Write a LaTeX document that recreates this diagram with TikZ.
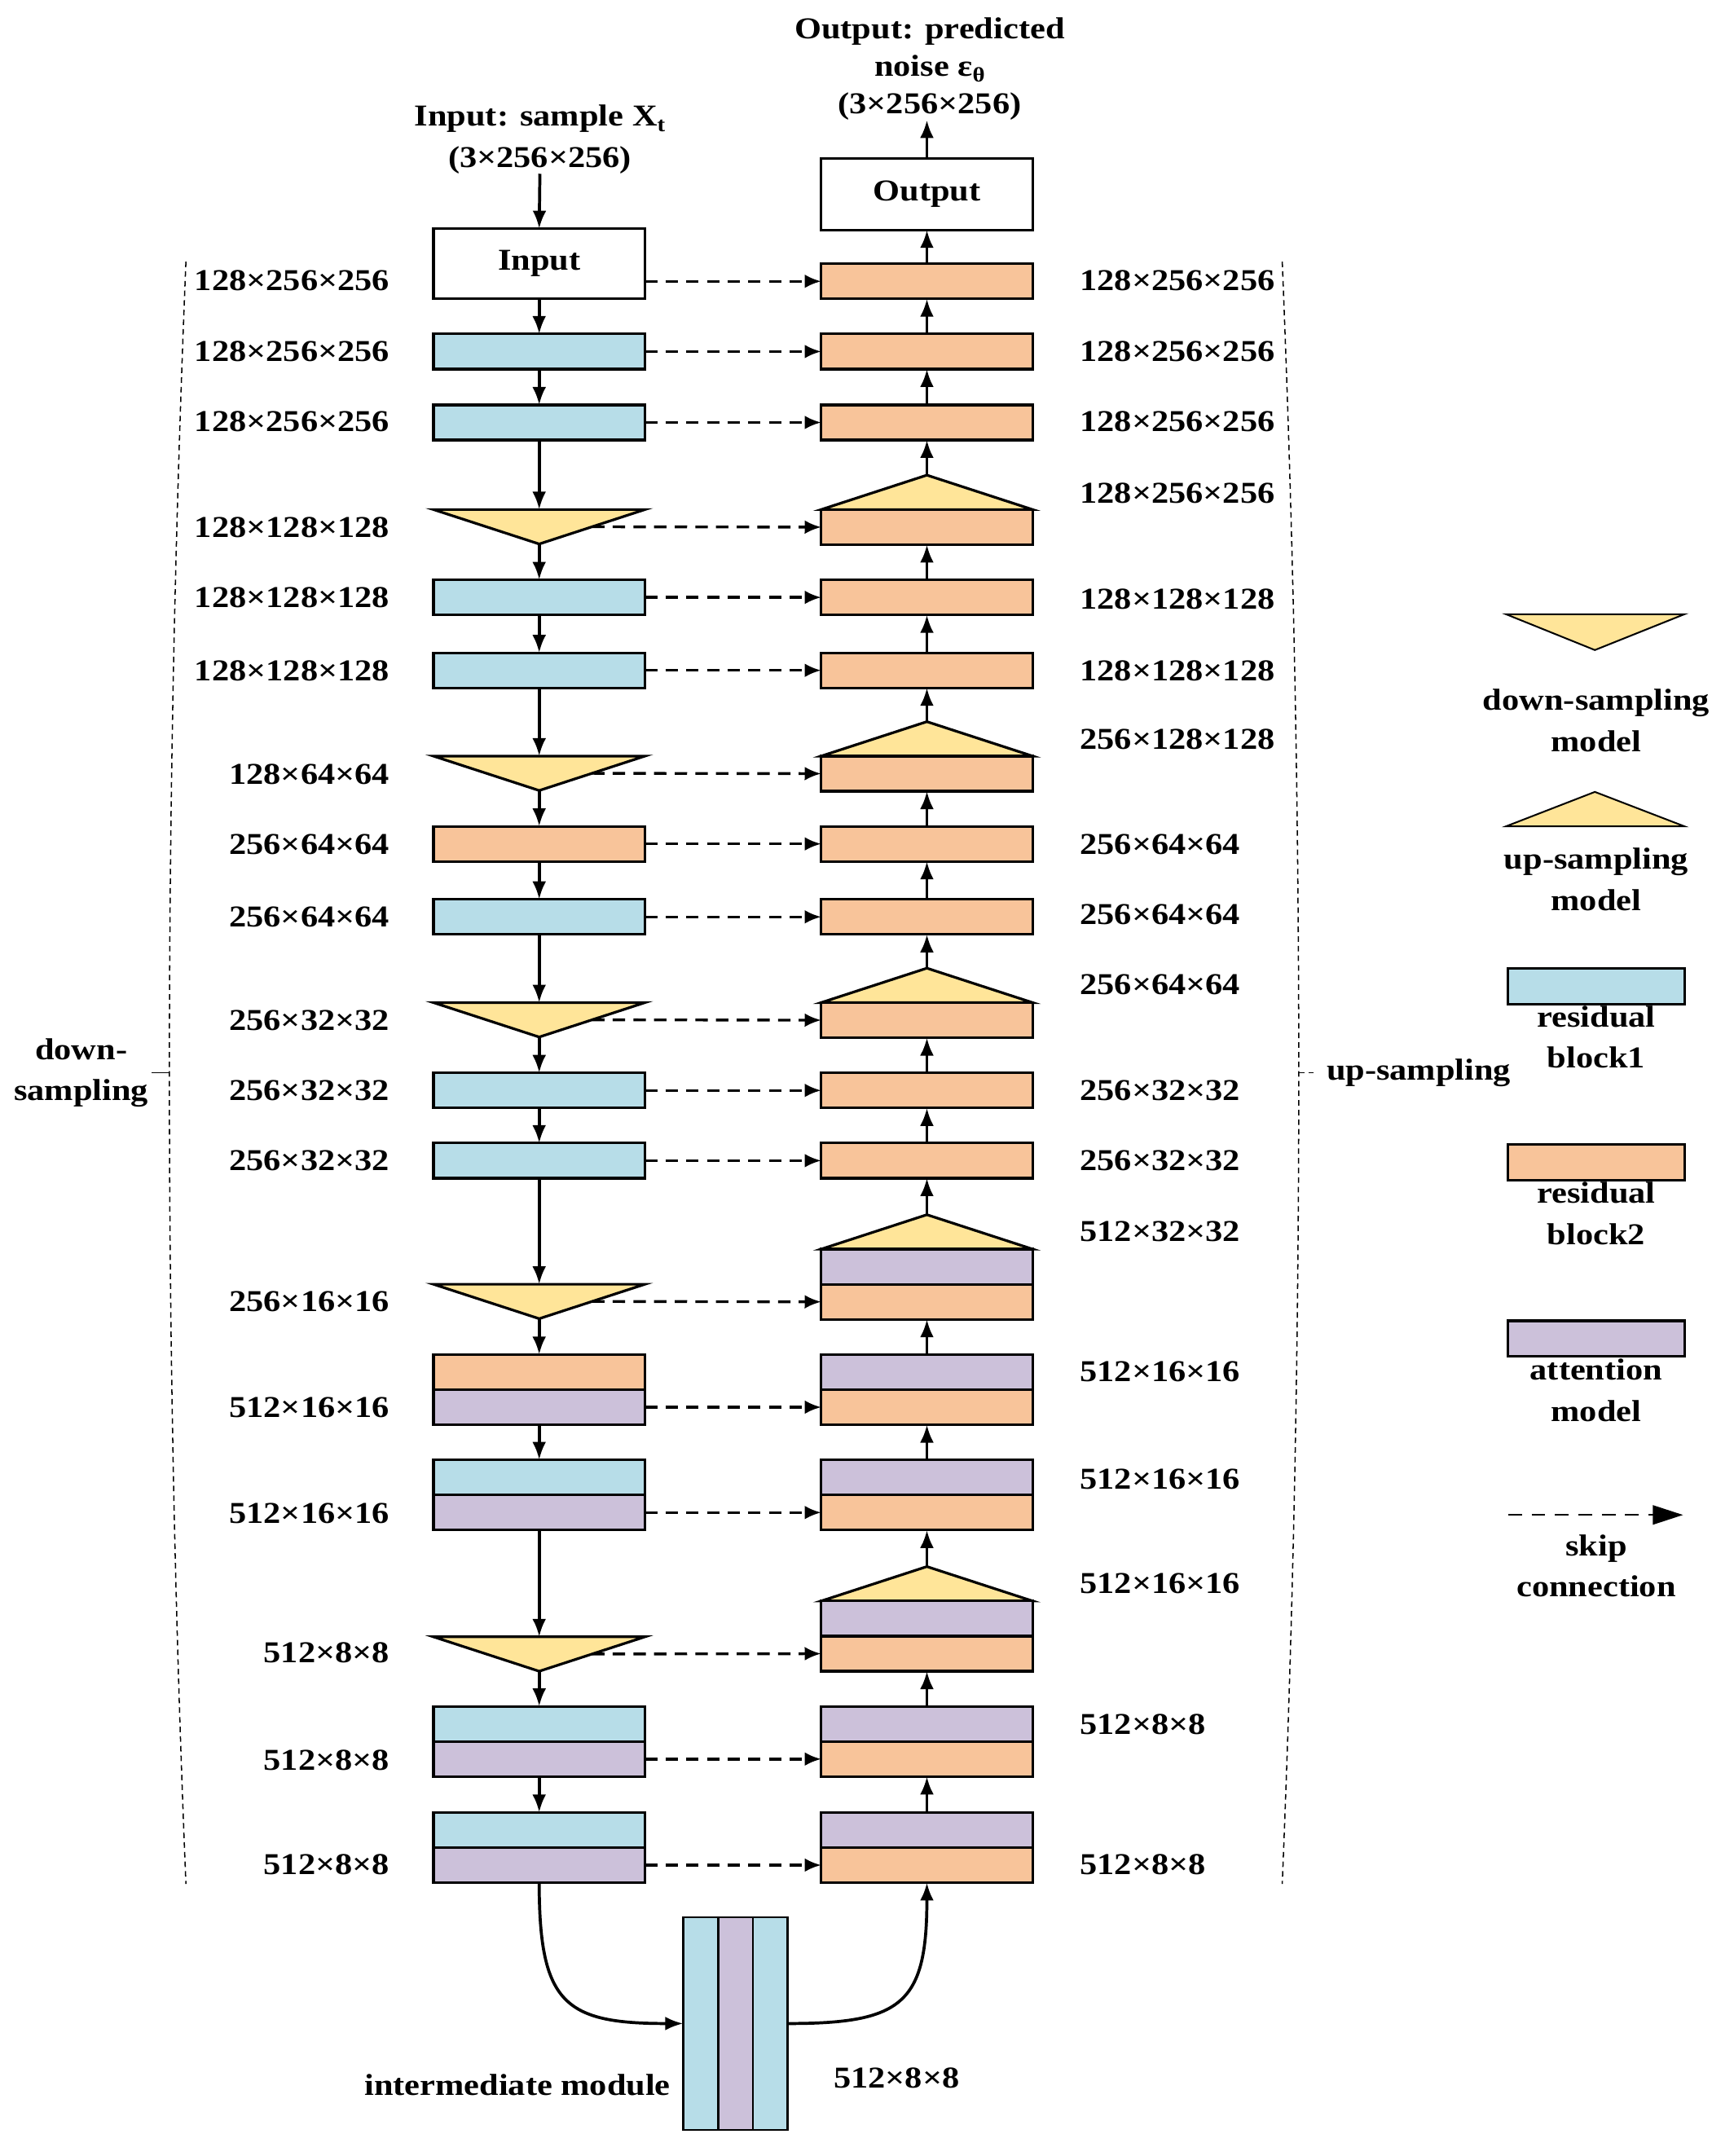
\documentclass[tikz,border=0pt]{standalone}
\usepackage{fontspec}
\setmainfont{Liberation Serif}[FakeStretch=1.14]
\usetikzlibrary{arrows.meta}
\definecolor{cblue}{RGB}{183,221,232}
\definecolor{corange}{RGB}{248,196,154}
\definecolor{cpurple}{RGB}{204,193,218}
\definecolor{cyellow}{RGB}{255,229,153}
\tikzset{
 blk/.style={draw, line width=1.9pt, minimum width=153.5pt, minimum height=25.5pt, inner sep=0pt, outer sep=0pt},
 bb/.style={blk, fill=cblue}, ob/.style={blk, fill=corange}, pb/.style={blk, fill=cpurple},
 tri/.style={draw, line width=1.9pt, fill=cyellow, line join=miter},
 arr/.style={line width=2.2pt, -{Latex[length=13pt,width=10pt]}},
 skipc/.style={line width=2pt, dash pattern=on 9pt off 6pt, -{Latex[length=12pt,width=10pt]}},
 lab/.style={inner sep=0pt, font=\fontsize{22pt}{28pt}\selectfont\bfseries},
 lab2/.style={inner sep=0pt, align=center, font=\fontsize{22pt}{30pt}\selectfont\bfseries},
 brack/.style={line width=0.9pt, dash pattern=on 4pt off 3pt},
}
\newcommand\Blk[4]{\node[#2] (#1) at (#3,#4+12.75) {};}
\newcommand\DTri[3]{%
 \draw[tri] (#2-76.75,#3) -- (#2+76.75,#3) -- (#2,#3+25) -- cycle;
 \coordinate (#1top) at (#2,#3);
 \coordinate (#1apex) at (#2,#3+25);
 \coordinate (#1skip) at (#2+38.4,#3+12.5);}
\newcommand\UTri[3]{%
 \draw[tri] (#2-76.75,#3) -- (#2+76.75,#3) -- (#2,#3-25) -- cycle;
 \coordinate (#1apex) at (#2,#3-25);}
\newcommand\subtxt[1]{\raisebox{-4pt}{\fontsize{15pt}{15pt}\selectfont #1}}
\begin{document}
\begin{tikzpicture}[x=1pt,y=-1pt]
\useasboundingbox (0,0) rectangle (1259,1565.5);
% top texts
\node[lab2, font=\fontsize{22pt}{30pt}\selectfont\bfseries] (intxt) at (392,101) {Input: sample X\subtxt{t}\\(3×256×256)};
\node[lab2, font=\fontsize{22pt}{27pt}\selectfont\bfseries] (outtxt) at (675,50) {Output: predicted\\noise ε\subtxt{θ}\\(3×256×256)};
% input / output boxes
\node[blk, fill=white, minimum height=51pt, font=\fontsize{22pt}{28pt}\selectfont\bfseries] (Lin) at (391.5,191.5) {Input};
\node[blk, fill=white, minimum height=52pt, font=\fontsize{22pt}{28pt}\selectfont\bfseries] (Out) at (673,141) {Output};
% left column
\Blk{L2}{bb}{391.5}{242.5}
\Blk{L3}{bb}{391.5}{294}
\DTri{L4}{391.5}{370}
\Blk{L5}{bb}{391.5}{421}
\Blk{L6}{bb}{391.5}{474}
\DTri{L7}{391.5}{549}
\Blk{L8}{ob}{391.5}{600}
\Blk{L9}{bb}{391.5}{653}
\DTri{L10}{391.5}{728}
\Blk{L11}{bb}{391.5}{779}
\Blk{L12}{bb}{391.5}{830}
\DTri{L13}{391.5}{932.5}
\Blk{L14a}{ob}{391.5}{983.5}
\Blk{L14b}{pb}{391.5}{1009}
\Blk{L15a}{bb}{391.5}{1060}
\Blk{L15b}{pb}{391.5}{1085.5}
\DTri{L16}{391.5}{1188.5}
\Blk{L17a}{bb}{391.5}{1239}
\Blk{L17b}{pb}{391.5}{1264.5}
\Blk{L18a}{bb}{391.5}{1316}
\Blk{L18b}{pb}{391.5}{1341.5}
% right column
\Blk{R1}{ob}{673}{191.5}
\Blk{R2}{ob}{673}{242.5}
\Blk{R3}{ob}{673}{294}
\UTri{R4t}{673}{370}
\Blk{R4}{ob}{673}{370}
\Blk{R5}{ob}{673}{421}
\Blk{R6}{ob}{673}{474}
\UTri{R7t}{673}{549}
\Blk{R7}{ob}{673}{549}
\Blk{R8}{ob}{673}{600}
\Blk{R9}{ob}{673}{653}
\UTri{R10t}{673}{728}
\Blk{R10}{ob}{673}{728}
\Blk{R11}{ob}{673}{779}
\Blk{R12}{ob}{673}{830}
\UTri{R13t}{673}{907}
\Blk{R13a}{pb}{673}{907}
\Blk{R13b}{ob}{673}{932.5}
\Blk{R14a}{pb}{673}{983.5}
\Blk{R14b}{ob}{673}{1009}
\Blk{R15a}{pb}{673}{1060}
\Blk{R15b}{ob}{673}{1085.5}
\UTri{R16t}{673}{1162.5}
\Blk{R16a}{pb}{673}{1162.5}
\Blk{R16b}{ob}{673}{1188}
\Blk{R17a}{pb}{673}{1239}
\Blk{R17b}{ob}{673}{1264.5}
\Blk{R18a}{pb}{673}{1316}
\Blk{R18b}{ob}{673}{1341.5}
% intermediate module
\node[blk, line width=1.6pt, fill=cblue, minimum width=25.3pt, minimum height=154.5pt] (m1) at (508.7,1469.3) {};
\node[blk, line width=1.6pt, fill=cpurple, minimum width=25.3pt, minimum height=154.5pt] (m2) at (534,1469.3) {};
\node[blk, line width=1.6pt, fill=cblue, minimum width=25.3pt, minimum height=154.5pt] (m3) at (559.3,1469.3) {};
% arrows
\draw[arr] (intxt.south) -- (Lin.north);
\draw[arr] (Out.north) -- (outtxt.south -| Out.north);
\draw[arr] (Lin.south) -- (L2.north);
\draw[arr] (L2.south) -- (L3.north);
\draw[arr] (L3.south) -- (L4top);
\draw[arr] (L4apex) -- (L5.north);
\draw[arr] (L5.south) -- (L6.north);
\draw[arr] (L6.south) -- (L7top);
\draw[arr] (L7apex) -- (L8.north);
\draw[arr] (L8.south) -- (L9.north);
\draw[arr] (L9.south) -- (L10top);
\draw[arr] (L10apex) -- (L11.north);
\draw[arr] (L11.south) -- (L12.north);
\draw[arr] (L12.south) -- (L13top);
\draw[arr] (L13apex) -- (L14a.north);
\draw[arr] (L14b.south) -- (L15a.north);
\draw[arr] (L15b.south) -- (L16top);
\draw[arr] (L16apex) -- (L17a.north);
\draw[arr] (L17b.south) -- (L18a.north);
\draw[arr] (R1.north) -- (Out.south);
\draw[arr] (R2.north) -- (R1.south);
\draw[arr] (R3.north) -- (R2.south);
\draw[arr] (R4tapex) -- (R3.south);
\draw[arr] (R5.north) -- (R4.south);
\draw[arr] (R6.north) -- (R5.south);
\draw[arr] (R7tapex) -- (R6.south);
\draw[arr] (R8.north) -- (R7.south);
\draw[arr] (R9.north) -- (R8.south);
\draw[arr] (R10tapex) -- (R9.south);
\draw[arr] (R11.north) -- (R10.south);
\draw[arr] (R12.north) -- (R11.south);
\draw[arr] (R13tapex) -- (R12.south);
\draw[arr] (R14a.north) -- (R13b.south);
\draw[arr] (R15a.north) -- (R14b.south);
\draw[arr] (R16tapex) -- (R15b.south);
\draw[arr] (R17a.north) -- (R16b.south);
\draw[arr] (R18a.north) -- (R17b.south);
\draw[arr] (L18b.south) .. controls (391.5,1455) and (410,1469.3) .. (m1.west);
\draw[arr] (m3.east) .. controls (655,1469.3) and (673,1455) .. (R18b.south);
% skip connections
\draw[skipc] (Lin.east |- R1.west) -- (R1.west);
\draw[skipc] (L2.east) -- (R2.west);
\draw[skipc] (L3.east) -- (R3.west);
\draw[skipc] (L4skip) -- (R4.west);
\draw[skipc] (L5.east) -- (R5.west);
\draw[skipc] (L6.east) -- (R6.west);
\draw[skipc] (L7skip) -- (R7.west);
\draw[skipc] (L8.east) -- (R8.west);
\draw[skipc] (L9.east) -- (R9.west);
\draw[skipc] (L10skip) -- (R10.west);
\draw[skipc] (L11.east) -- (R11.west);
\draw[skipc] (L12.east) -- (R12.west);
\draw[skipc] (L13skip) -- (R13b.west);
\draw[skipc] (L14b.east) -- (R14b.west);
\draw[skipc] (L15b.east) -- (R15b.west);
\draw[skipc] (L16skip) -- (R16b.west);
\draw[skipc] (L17b.east) -- (R17b.west);
\draw[skipc] (L18b.east) -- (R18b.west);
% left labels
\node[lab, anchor=east] (ll1) at (283,204) {128×256×256};
\node[lab, anchor=east] (ll2) at (283,255) {128×256×256};
\node[lab, anchor=east] (ll3) at (283,306) {128×256×256};
\node[lab, anchor=east] (ll4) at (283,383) {128×128×128};
\node[lab, anchor=east] (ll5) at (283,434) {128×128×128};
\node[lab, anchor=east] (ll6) at (283,487) {128×128×128};
\node[lab, anchor=east] (ll7) at (283,562) {128×64×64};
\node[lab, anchor=east] (ll8) at (283,613) {256×64×64};
\node[lab, anchor=east] (ll9) at (283,666) {256×64×64};
\node[lab, anchor=east] (ll10) at (283,741) {256×32×32};
\node[lab, anchor=east] (ll11) at (283,792) {256×32×32};
\node[lab, anchor=east] (ll12) at (283,843) {256×32×32};
\node[lab, anchor=east] (ll13) at (283,945) {256×16×16};
\node[lab, anchor=east] (ll14) at (283,1022) {512×16×16};
\node[lab, anchor=east] (ll15) at (283,1099) {512×16×16};
\node[lab, anchor=east] (ll16) at (283,1200) {512×8×8};
\node[lab, anchor=east] (ll17) at (283,1278) {512×8×8};
\node[lab, anchor=east] (ll18) at (283,1354) {512×8×8};
% right labels
\node[lab, anchor=west] (rl1) at (784,204) {128×256×256};
\node[lab, anchor=west] (rl2) at (784,255) {128×256×256};
\node[lab, anchor=west] (rl3) at (784,306) {128×256×256};
\node[lab, anchor=west] (rl4) at (784,358) {128×256×256};
\node[lab, anchor=west] (rl5) at (784,435) {128×128×128};
\node[lab, anchor=west] (rl6) at (784,487) {128×128×128};
\node[lab, anchor=west] (rl7) at (784,537) {256×128×128};
\node[lab, anchor=west] (rl8) at (784,613) {256×64×64};
\node[lab, anchor=west] (rl9) at (784,664) {256×64×64};
\node[lab, anchor=west] (rl10) at (784,715) {256×64×64};
\node[lab, anchor=west] (rl11) at (784,792) {256×32×32};
\node[lab, anchor=west] (rl12) at (784,843) {256×32×32};
\node[lab, anchor=west] (rl13) at (784,894) {512×32×32};
\node[lab, anchor=west] (rl14) at (784,996) {512×16×16};
\node[lab, anchor=west] (rl15) at (784,1074) {512×16×16};
\node[lab, anchor=west] (rl16) at (784,1150) {512×16×16};
\node[lab, anchor=west] (rl17) at (784,1252) {512×8×8};
\node[lab, anchor=west] (rl18) at (784,1354) {512×8×8};
% module labels
\node[lab, anchor=east] (imlab) at (487,1514) {intermediate module};
\node[lab] (imdim) at (651,1509) {512×8×8};
% brackets
\draw[brack] (135,190) .. controls (119,580) and (119,980) .. (135,1368);
\coordinate (lbm) at (123,779);
\coordinate (lbt) at (110,779);
\draw[line width=0.9pt] (lbm) -- (lbt);
\node[lab2] (dslab) at (59,779) {down-\\sampling};
\draw[brack] (931,190) .. controls (947,580) and (947,980) .. (931,1368);
\coordinate (rbm) at (943,779);
\coordinate (rbt) at (956,779);
\draw[brack] (rbm) -- (rbt);
\node[lab, anchor=west] (uslab) at (963,779) {up-sampling};
% legend
\draw[tri, line width=1.2pt] (1093.5,446) -- (1223,446) -- (1158,472) -- cycle;
\node[lab2] (lg1) at (1159,523) {down-sampling\\model};
\draw[tri, line width=1.2pt] (1093.5,600) -- (1223,600) -- (1158,575) -- cycle;
\node[lab2] (lg2) at (1159,638.5) {up-sampling\\model};
\node[blk, fill=cblue, minimum width=128pt, minimum height=26pt] (lgb) at (1159,716) {};
\node[lab2] (lg3) at (1159,753) {residual\\block1};
\node[blk, fill=corange, minimum width=128pt, minimum height=26pt] (lgo) at (1159,844) {};
\node[lab2] (lg4) at (1159,881) {residual\\block2};
\node[blk, fill=cpurple, minimum width=128pt, minimum height=26pt] (lgp) at (1159,972) {};
\node[lab2] (lg5) at (1159,1009.5) {attention\\model};
\coordinate (lsA) at (1095,1100);
\coordinate (lsB) at (1222,1100);
\draw[line width=1.2pt, dash pattern=on 10pt off 7pt, -{Triangle[length=22pt,width=14pt]}] (lsA) -- (lsB);
\node[lab2] (lg6) at (1159,1137) {skip\\connection};
\end{tikzpicture}
\end{document}
